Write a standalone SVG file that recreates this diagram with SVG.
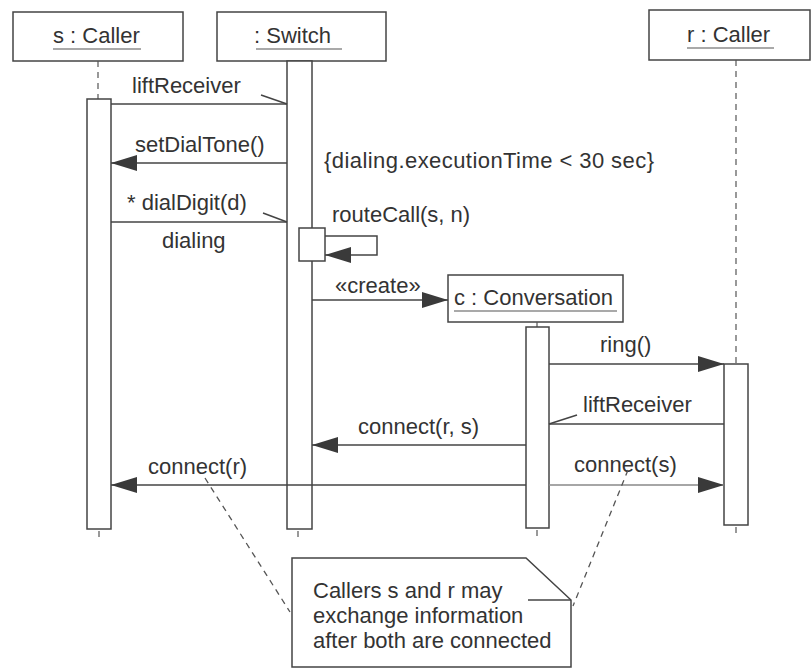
<svg xmlns="http://www.w3.org/2000/svg" width="811" height="668" viewBox="0 0 811 668">
<style>
.box{fill:#fff;stroke:#444;stroke-width:1.5}
.bar{fill:#fff;stroke:#444;stroke-width:1.5}
.t{font-family:"Liberation Sans",Arial,Helvetica,sans-serif;font-size:22px;fill:#333}
.msg{stroke:#444;stroke-width:1.5;fill:none}
.light{stroke:#888}
.life{stroke:#555;stroke-width:1.2;stroke-dasharray:6 5;fill:none}
.ul{stroke:#555;stroke-width:1.2}
.anchor{stroke:#555;stroke-width:1.3;stroke-dasharray:6 5;fill:none}
</style>
<defs>
<marker id="arr" markerUnits="userSpaceOnUse" markerWidth="26" markerHeight="16" viewBox="0 0 26 16" refX="26" refY="8" orient="auto">
<path d="M0,0 L26,8 L0,16 z" fill="#3a3a3a"/>
</marker>
</defs>
<rect width="811" height="668" fill="#fff"/>

<g id="s_caller">
<rect class="box" x="13" y="12" width="170" height="49"/>
<text class="t" x="53" y="43">s : Caller</text>
<line class="ul" x1="53" y1="49" x2="141" y2="49"/>
<line class="life" x1="98" y1="61" x2="98" y2="99"/>
<rect class="bar" x="87" y="99" width="24" height="430"/>
<line class="life" x1="99" y1="531" x2="99" y2="541"/>
</g>

<g id="switch">
<rect class="box" x="217" y="12" width="169" height="49"/>
<text class="t" x="254" y="43">: Switch</text>
<line class="ul" x1="256" y1="49" x2="342" y2="49"/>
<rect class="bar" x="287" y="61" width="25" height="468"/>
<rect class="bar" x="299" y="228" width="26" height="33"/>
<line class="life" x1="298" y1="531" x2="298" y2="541"/>
</g>

<g id="r_caller">
<rect class="box" x="649" y="10" width="161" height="50"/>
<text class="t" x="687" y="42">r : Caller</text>
<line class="ul" x1="687" y1="48" x2="774" y2="48"/>
<line class="life" x1="736" y1="60" x2="736" y2="364"/>
<rect class="bar" x="724" y="364" width="24" height="161"/>
<line class="life" x1="736" y1="527" x2="736" y2="537"/>
</g>

<g id="conversation">
<rect class="box" x="448" y="275" width="175" height="47"/>
<text class="t" x="454" y="305">c : Conversation</text>
<line class="ul" x1="454" y1="311" x2="617" y2="311"/>
<line class="life" x1="537" y1="322" x2="537" y2="327"/>
<rect class="bar" x="526" y="327" width="23" height="201"/>
<line class="life" x1="537" y1="530" x2="537" y2="540"/>
</g>

<g id="constraint">
<text class="t" x="324" y="168" textLength="330" lengthAdjust="spacing">{dialing.executionTime &lt; 30 sec}</text>
</g>

<g id="note">
<path class="box" d="M292,558 H526 L571,600 V667 H292 Z"/>
<line class="msg" x1="528" y1="600" x2="571" y2="600"/>
<text class="t" x="313" y="598">Callers s and r may</text>
<text class="t" x="313" y="623">exchange information</text>
<text class="t" x="313" y="648">after both are connected</text>
</g>

<g id="connectors">
<line class="msg" x1="111" y1="104" x2="287" y2="104"/>
<line class="msg" x1="261" y1="95" x2="287" y2="104"/>
<text class="t" x="132" y="93">liftReceiver</text>

<line class="msg" x1="287" y1="163" x2="111" y2="163" marker-end="url(#arr)"/>
<text class="t" x="135" y="152">setDialTone()</text>

<line class="msg" x1="111" y1="222" x2="287" y2="222"/>
<line class="msg" x1="263" y1="213" x2="287" y2="222"/>
<text class="t" x="127" y="210">* dialDigit(d)</text>
<text class="t" x="162" y="248">dialing</text>

<path class="msg" d="M325,236 H377 V255 H325" marker-end="url(#arr)"/>
<text class="t" x="332" y="222">routeCall(s, n)</text>

<line class="msg" x1="312" y1="300" x2="448" y2="300" marker-end="url(#arr)"/>
<text class="t" x="335" y="293">«create»</text>

<line class="msg" x1="549" y1="364" x2="724" y2="364" marker-end="url(#arr)"/>
<text class="t" x="600" y="352">ring()</text>

<line class="msg" x1="724" y1="424" x2="549" y2="424"/>
<line class="msg" x1="577" y1="415" x2="549" y2="424"/>
<text class="t" x="583" y="412">liftReceiver</text>

<line class="msg" x1="526" y1="445" x2="312" y2="445" marker-end="url(#arr)"/>
<text class="t" x="358" y="434">connect(r, s)</text>

<line class="msg" x1="526" y1="485" x2="111" y2="485" marker-end="url(#arr)"/>
<text class="t" x="148" y="474">connect(r)</text>

<line class="msg light" x1="549" y1="485" x2="724" y2="485" marker-end="url(#arr)"/>
<text class="t" x="574" y="472">connect(s)</text>

<line class="anchor" x1="205" y1="478" x2="290" y2="612"/>
<line class="anchor" x1="628" y1="470" x2="573" y2="606"/>
</g>
</svg>
